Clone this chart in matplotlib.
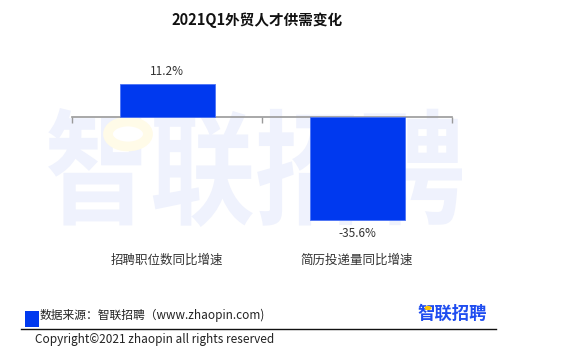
import matplotlib
matplotlib.use("Agg")
import matplotlib.pyplot as plt
from matplotlib.patches import Circle, Rectangle, PathPatch
from matplotlib.lines import Line2D
from matplotlib.textpath import TextPath
from matplotlib.font_manager import FontProperties
from matplotlib.transforms import Affine2D, IdentityTransform
import matplotlib.transforms as mtransforms

plt.rcParams['font.family'] = ['Noto Sans CJK SC', 'DejaVu Sans']

title = "2021Q1外贸人才供需变化"
categories = ["招聘职位数同比增速", "简历投递量同比增速"]
values = [11.2, -35.6]
value_labels = ["11.2%", "-35.6%"]
source_text = "数据来源：智联招聘（www.zhaopin.com)"
copyright_text = "Copyright©2021 zhaopin all rights reserved"
logo_text = "智联招聘"

W, H = 578, 360
fig = plt.figure(figsize=(W / 100, H / 100), dpi=100)
fig.patch.set_facecolor("white")

def fx(px):
    return px / W

def fy(py):
    return 1 - py / H

# watermark: stretched text path fitted into a pixel box
tp = TextPath((0, 0), logo_text, size=100,
              prop=FontProperties(family="Noto Sans CJK SC", weight="bold"))
ext = tp.get_extents()
x0, x1, top, bot = 48, 462, 108, 227
sx = (x1 - x0) / ext.width
sy = (bot - top) / ext.height
tr = Affine2D().translate(-ext.x0, -ext.y0).scale(sx, sy).translate(x0, H - bot)
wm = PathPatch(tr.transform_path(tp), facecolor="#eff2fd", edgecolor="none",
               transform=IdentityTransform(), zorder=0)
fig.patches.append(wm)
fig.patches.append(Circle((fx(128), fy(134)), 20 / W, transform=fig.transFigure,
                          facecolor="white", edgecolor="#fffbe8", linewidth=7,
                          zorder=0.5))

ax = fig.add_axes([fx(72), fy(240), fx(452) - fx(72), (240 - 60) / H])
ax.set_zorder(2)
ax.patch.set_alpha(0)
bar_color = "#0039ef"
x = list(range(len(categories)))
bars = ax.bar(x, values, width=0.5, color=bar_color, edgecolor="#4d74f5", linewidth=0.6, zorder=3)
ax.set_xlim(-0.5, 1.5)
ax.set_ylim(-42.4, 19.6)

for s in ["top", "right", "left"]:
    ax.spines[s].set_visible(False)
ax.spines["bottom"].set_position(("data", 0))
ax.spines["bottom"].set_color("#9a9a9a")
ax.spines["bottom"].set_linewidth(1.2)
ax.spines["bottom"].set_zorder(2)
ax.set_yticks([])
ax.set_xticks([-0.5, 0.5, 1.5])
ax.set_xticklabels([])
ax.tick_params(axis="x", direction="out", length=4, width=1, color="#9a9a9a")

for xi, v, lab in zip(x, values, value_labels):
    if v >= 0:
        ax.annotate(lab, (xi, v), xytext=(0, 4.5), textcoords="offset points",
                    ha="center", va="bottom", fontsize=8.5, color="#333333")
    else:
        ax.annotate(lab, (xi, v), xytext=(0, -5), textcoords="offset points",
                    ha="center", va="top", fontsize=8.5, color="#333333")

trans = mtransforms.blended_transform_factory(ax.transData, fig.transFigure)
for xi, c in zip(x, categories):
    ax.text(xi, fy(260), c, transform=trans, ha="center", va="center",
            fontsize=9, color="#333333")

fig.text(fx(257), fy(20), title, ha="center", va="center", fontsize=10.5,
         fontweight="bold", color="#111111")

# footer
fig.patches.append(Rectangle((fx(25), fy(327)), fx(39) - fx(25), (327 - 311) / H,
                             transform=fig.transFigure, facecolor="#0039ef",
                             edgecolor="none"))
fig.text(fx(40), fy(315), source_text, ha="left", va="center", fontsize=8.5,
         color="#222222")
fig.text(fx(487), fy(314), logo_text, ha="right", va="center", fontsize=12.5,
         fontweight="bold", color="#1f4df0")
fig.patches.append(Circle((fx(428), fy(308)), 0.006, transform=fig.transFigure,
                          facecolor="#ffc400", edgecolor="none", zorder=5))
fig.lines.append(Line2D([fx(21), fx(496)], [fy(329), fy(329)],
                        transform=fig.transFigure, color="#111111", linewidth=1))
fig.text(fx(35), fy(339), copyright_text, ha="left", va="center", fontsize=8.5,
         color="#222222")

fig.savefig("out.png", dpi=100, facecolor="white")
